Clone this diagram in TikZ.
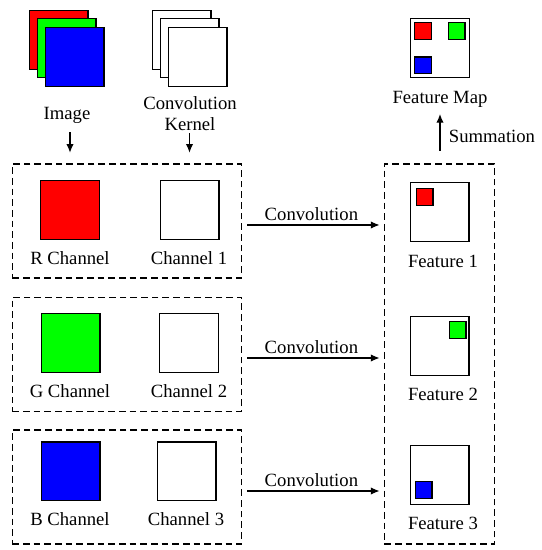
\documentclass[tikz,border=0pt]{standalone}
\usepackage{fontspec}
\setmainfont{Liberation Serif}
\usetikzlibrary{arrows.meta,positioning,calc}
\definecolor{chanRed}{RGB}{255,0,0}
\definecolor{chanGreen}{RGB}{0,255,0}
\definecolor{chanBlue}{RGB}{0,0,255}
\tikzset{
  square/.style={draw, line width=1pt, fill=white, minimum size=44pt, inner sep=0pt},
  mark box/.style={draw, line width=1pt, minimum size=12.5pt, inner sep=0pt},
  group/.style={draw, line width=0.9pt, dash pattern=on 5pt off 3pt, inner sep=0pt},
  arrow/.style={-{Latex[length=6.5pt,width=5.5pt]}, line width=0.9pt},
  label/.style={align=center, inner sep=0pt, font=\fontsize{14}{15.75}\selectfont}
}
\begin{document}
\begin{tikzpicture}[x=0.75pt,y=0.75pt]
  \useasboundingbox (0,0) rectangle (542,550);

  \node[square, fill=chanRed] (stackred) at (58.5,510) {};
  \node[square, fill=chanGreen] (stackgreen) at (66.5,502) {};
  \node[square, fill=chanBlue] (stackblue) at (74.5,493) {};
  \node[square] (kernelone) at (181.5,510) {};
  \node[square] (kerneltwo) at (189.5,502) {};
  \node[square] (kernelthree) at (197.5,493) {};
  \node[label] (imagelabel) at (67,435) {Image};
  \node[label] (kernellabel) at (190,436.5) {Convolution\\Kernel};

  \node[group, minimum width=172pt, minimum height=85.5pt] (rowone) at (127,329) {};
  \node[group, minimum width=172pt, minimum height=85.5pt] (rowtwo) at (127,195.5) {};
  \node[group, minimum width=172pt, minimum height=85.5pt] (rowthree) at (127,63) {};
  \node[group, minimum width=83pt, minimum height=285pt] (features) at (439.5,196) {};

  \node[square, fill=chanRed] (redchan) at (70,340) {};
  \node[square] (chanone) at (189.5,340) {};
  \node[square, fill=chanGreen] (greenchan) at (70.5,207) {};
  \node[square] (chantwo) at (189,207) {};
  \node[square, fill=chanBlue] (bluechan) at (70.5,78.5) {};
  \node[square] (chanthree) at (186.5,78.5) {};
  \node[label] (redlabel) at (70,292) {R Channel};
  \node[label] (onelabel) at (189,292) {Channel 1};
  \node[label] (greenlabel) at (70,159) {G Channel};
  \node[label] (twolabel) at (189,159) {Channel 2};
  \node[label] (bluelabel) at (70,31) {B Channel};
  \node[label] (threelabel) at (186,31) {Channel 3};

  \node[square] (featone) at (439.5,338) {};
  \node[mark box, fill=chanRed] at (424.5,353) (featonemark) {};
  \node[square] (feattwo) at (439.5,204) {};
  \node[mark box, fill=chanGreen] at (457.5,220) (feattwomark) {};
  \node[square] (featthree) at (439.5,75) {};
  \node[mark box, fill=chanBlue] at (423.5,60) (featthreemark) {};
  \node[label] (featonelabel) at (443,289) {Feature 1};
  \node[label] (feattwolabel) at (443,156) {Feature 2};
  \node[label] (featthreelabel) at (443,27) {Feature 3};

  \node[square] (featuremap) at (440,502) {};
  \node[mark box, fill=chanRed] (mapred) at (423,519) {};
  \node[mark box, fill=chanGreen] (mapgreen) at (456.5,519) {};
  \node[mark box, fill=chanBlue] (mapblue) at (423,484.5) {};
  \node[label] (maplabel) at (440,451) {Feature Map};

  \draw[arrow, shorten <=6.5pt, shorten >=8pt] (redchan |- imagelabel.south) -- (redchan |- rowone.north);
  \draw[arrow, shorten <=2pt, shorten >=8pt] (chanone |- kernellabel.south) -- (chanone |- rowone.north);
  \draw[arrow, shorten <=9.5pt, shorten >=5pt] (features.north -| maplabel) -- (maplabel.south);

  \draw[arrow] ($(rowone.east)+(5,-4)$) -- ($(rowone.east -| features.west)+(-4,-4)$) node[label, midway, above=3pt, xshift=-1.5pt] (convone) {Convolution};
  \draw[arrow] ($(rowtwo.east)+(5,-3.5)$) -- ($(rowtwo.east -| features.west)+(-4,-3.5)$) node[label, midway, above=3pt, xshift=-1.5pt] (convtwo) {Convolution};
  \draw[arrow] ($(rowthree.east)+(5,-4)$) -- ($(rowthree.east -| features.west)+(-4,-4)$) node[label, midway, above=3pt, xshift=-1.5pt] (convthree) {Convolution};

  \node[label] (sumlabel) at (492,414) {Summation};
\end{tikzpicture}
\end{document}
